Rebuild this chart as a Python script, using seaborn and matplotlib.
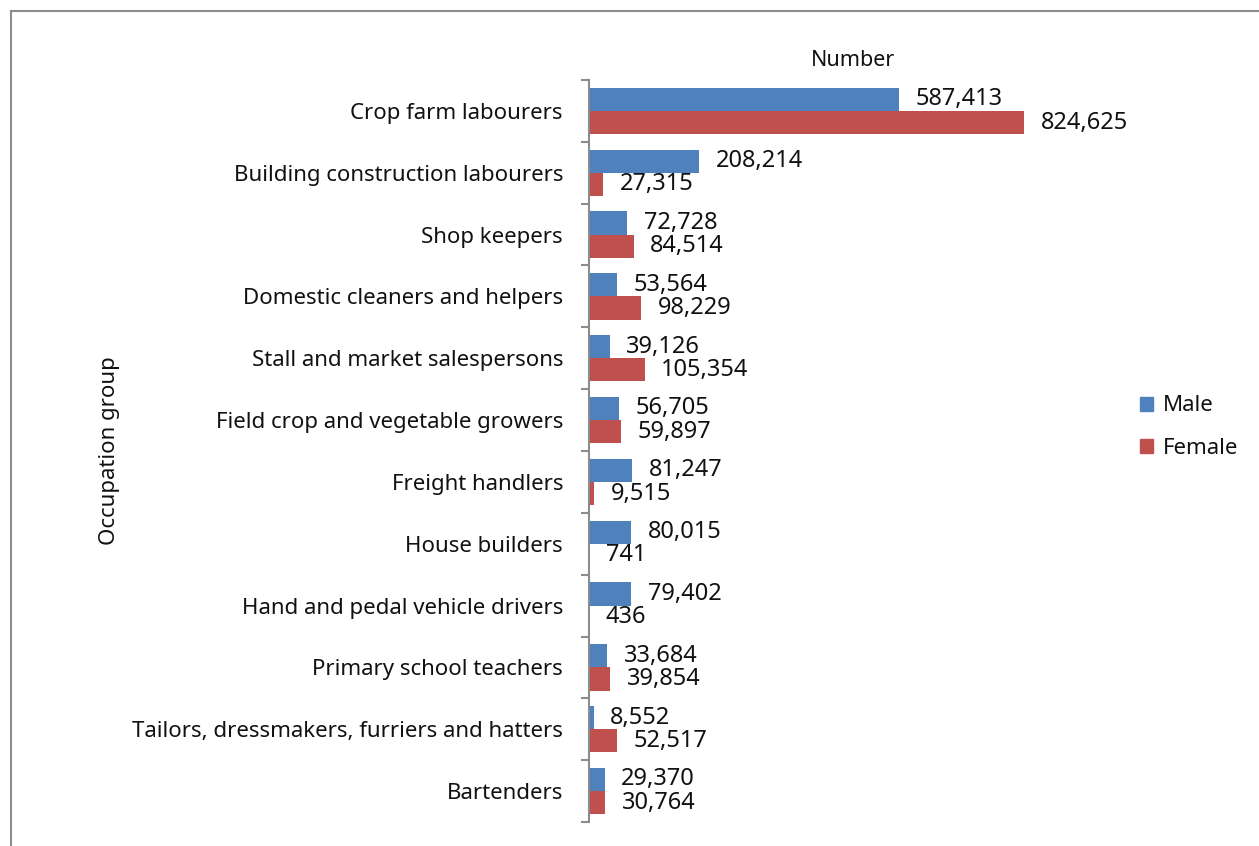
import matplotlib
matplotlib.use("Agg")
import matplotlib.pyplot as plt
from matplotlib.patches import Rectangle
from matplotlib.ticker import FixedLocator
import seaborn as sns
import pandas as pd
import numpy as np

occupations = [
    "Crop farm labourers",
    "Building construction labourers",
    "Shop keepers",
    "Domestic cleaners and helpers",
    "Stall and market salespersons",
    "Field crop and vegetable growers",
    "Freight handlers",
    "House builders",
    "Hand and pedal vehicle drivers",
    "Primary school teachers",
    "Tailors, dressmakers, furriers and hatters",
    "Bartenders",
]
male = [587413, 208214, 72728, 53564, 39126, 56705, 81247, 80015, 79402, 33684, 8552, 29370]
female = [824625, 27315, 84514, 98229, 105354, 59897, 9515, 741, 436, 39854, 52517, 30764]
sexes = ["Male", "Female"]
colors = ["#4F81BD", "#C0504D"]

df = pd.DataFrame({
    "Occupation group": occupations * 2,
    "Number": male + female,
    "Sex": ["Male"] * len(occupations) + ["Female"] * len(occupations),
})

sns.set_theme(style="white")
plt.rcParams["font.family"] = ["Noto Sans", "DejaVu Sans"]
plt.rcParams["text.color"] = "#111111"
plt.rcParams["axes.labelcolor"] = "#111111"
plt.rcParams["ytick.color"] = "#111111"

W, H = 1259, 846
fig = plt.figure(figsize=(W / 100, H / 100), dpi=100)
ax = fig.add_axes([589 / W, 1 - 822 / H, (1064 - 589) / W, (822 - 80) / H])

sns.barplot(
    data=df, y="Occupation group", x="Number", hue="Sex",
    order=occupations, hue_order=sexes, palette=colors,
    orient="h", width=0.75, saturation=1, ax=ax, legend=True,
    edgecolor="none",
)

ax.set_xlim(0, 900000)
ax.set_ylim(len(occupations) - 0.5, -0.5)

# value labels after each bar
for cont in ax.containers:
    ax.bar_label(cont, labels=[f"{v:,.0f}" for v in cont.datavalues],
                 padding=12, fontsize=17, color="#111111")

# only the category axis line is visible
for side in ["top", "right", "bottom"]:
    ax.spines[side].set_visible(False)
ax.spines["left"].set_color("#8c8c8c")
ax.spines["left"].set_linewidth(1.5)
ax.set_xticks([])
ax.set_xlabel("")
ax.set_ylabel("Occupation group", fontsize=16)

ax.tick_params(axis="y", which="major", length=0, pad=26 * 0.72, labelsize=16,
               labelcolor="#111111")
ax.yaxis.set_minor_locator(FixedLocator(np.arange(-0.5, len(occupations) + 0.5, 1)))
ax.tick_params(axis="y", which="minor", length=6, width=1.5, color="#8c8c8c", left=True)

ax.get_legend().remove()
handles = [Rectangle((0, 0), 1, 1, color=c) for c in colors]
fig.legend(handles, sexes, loc="center left", bbox_to_anchor=(1120 / W, 1 - 427 / H),
           frameon=False, fontsize=16, handlelength=0.6, handleheight=0.6,
           handletextpad=0.45, labelspacing=0.95)

fig.text(853 / W, 1 - 60 / H, "Number", ha="center", va="center", fontsize=15.5)

# outer chart frame
fig.add_artist(Rectangle((11 / W, -0.2), 2, 1.2 - 11 / H, transform=fig.transFigure,
                         fill=False, edgecolor="#8c8c8c", linewidth=1.5))

ax.yaxis.set_label_coords(120 / W, 0.5 * ((1 - 80 / H) + (1 - 822 / H)), transform=fig.transFigure)

fig.savefig("out.png", dpi=100)
